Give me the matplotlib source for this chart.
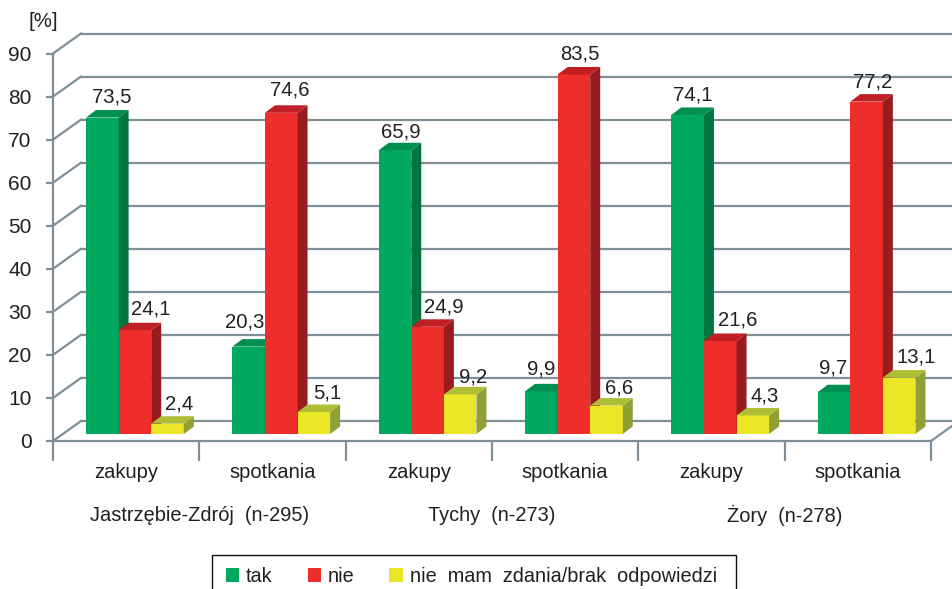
# Grouped pseudo-3D bar chart, bars and walls are built by hand on normal axes
import matplotlib
matplotlib.use('Agg')
import matplotlib.pyplot as plt
from matplotlib.patches import Patch, Polygon, Rectangle

plt.rcParams['font.family'] = ['Liberation Sans', 'DejaVu Sans']

# Data
cities = ['Jastrzębie-Zdrój  (n-295)', 'Tychy  (n-273)', 'Żory  (n-278)']
topics = ['zakupy', 'spotkania', 'zakupy', 'spotkania', 'zakupy', 'spotkania']
series_names = ['tak', 'nie', 'nie  mam  zdania/brak  odpowiedzi']
tak = [73.5, 20.3, 65.9, 9.9, 74.1, 9.7]
nie = [24.1, 74.6, 24.9, 83.5, 21.6, 77.2]
brak = [2.4, 5.1, 9.2, 6.6, 4.3, 13.1]
y_ticks = list(range(0, 100, 10))

# Label nudges in pixels, the labels do not sit centred on their bars
tak_nudge = [(9, 2), (-4, 6), (6, -1), (0, 3), (5, 1), (-1, 5)]
nie_nudge = [(16, 2), (9, 4), (16, 1), (6, 1), (17, 2), (6, 1)]
brak_nudge = [(12, 1), (13, 0), (13, -2), (13, -1), (12, 0), (17, 2)]

# Colours: front, side, top
green = ('#00a860', '#00753f', '#008f50')
red = ('#ee2e2a', '#981b20', '#bf1f25')
yellow = ('#ebe626', '#90a035', '#aebf35')
axis_color = '#7f8f98'
text_color = '#231f20'

fig = plt.figure(figsize=(9.53, 5.89), dpi=100)
ax = fig.add_axes([53 / 953, (589 - 441) / 589, 878 / 953, 387.5 / 589])
ax.set_xlim(0, 6)
ax.set_ylim(0, 90)

# pixel sizes in data units
px = 6 / 878
py = 90 / 387.5
wall_dx = 28 * px
wall_dy = 20 * py
depth_dx = 10 * px
depth_dy = 7.5 * py
floor = 7 * py
bar_w = 32.6 * px
bar_start = 33 * px

# Back wall lines and the diagonals going to the front axis
for tick in y_ticks:
    ax.plot([wall_dx, 6 + wall_dx], [tick + wall_dy] * 2, color=axis_color, lw=1.6,
            clip_on=False, zorder=1, solid_capstyle='butt')
    ax.plot([0, wall_dx], [tick, tick + wall_dy], color=axis_color, lw=1.6,
            clip_on=False, zorder=1)
ax.plot([6, 6 + wall_dx], [0, wall_dy], color=axis_color, lw=1.6, clip_on=False, zorder=1)


def draw_bar(x, value, colors, z):
    top = value + floor
    ax.bar(x, value, width=bar_w, bottom=floor, align='edge', color=colors[0],
           linewidth=0, zorder=z, clip_on=False)
    ax.add_patch(Polygon([(x + bar_w, floor), (x + bar_w + depth_dx, floor + depth_dy),
                          (x + bar_w + depth_dx, top + depth_dy), (x + bar_w, top)],
                         facecolor=colors[1], linewidth=0, zorder=z, clip_on=False))
    ax.add_patch(Polygon([(x, top), (x + depth_dx, top + depth_dy),
                          (x + bar_w + depth_dx, top + depth_dy), (x + bar_w, top)],
                         facecolor=colors[2], linewidth=0, zorder=z, clip_on=False))


all_series = [(tak, green, tak_nudge), (nie, red, nie_nudge), (brak, yellow, brak_nudge)]
for g in range(len(topics)):
    for s, (values, colors, nudge) in enumerate(all_series):
        x = g + bar_start + s * bar_w
        draw_bar(x, values[g], colors, 3 + s)
        ax.annotate(str(values[g]).replace('.', ','),
                    xy=(x + bar_w / 2, values[g] + floor + depth_dy),
                    xytext=(nudge[g][0], 6 + nudge[g][1]), textcoords='offset pixels',
                    ha='center', va='baseline', fontsize=14.6, color=text_color, zorder=10)

# Axes, ticks and tick labels
for name in ['top', 'right']:
    ax.spines[name].set_visible(False)
for name in ['left', 'bottom']:
    ax.spines[name].set_color(axis_color)
    ax.spines[name].set_linewidth(1.6)
ax.set_yticks(y_ticks)
ax.tick_params(axis='y', length=5, width=1.6, color=axis_color, pad=10.5,
               labelsize=15, labelcolor=text_color)
ax.set_xticks(range(7))
ax.set_xticklabels([])
ax.tick_params(axis='x', which='major', length=14.5, width=1.6, color=axis_color)
ax.set_xticks([g + 0.5 for g in range(6)], labels=topics, minor=True)
ax.tick_params(axis='x', which='minor', length=0, pad=15.5, labelsize=14.5,
               labelcolor=text_color)

for c, city in enumerate(cities):
    ax.text(2 * c + 1, -74.3 * py, city, ha='center', va='center', fontsize=14.45,
            color=text_color)
ax.text(-10 * px, 97.4, '[%]', ha='center', va='center', fontsize=14.6,
        color=text_color)

# Legend box runs off the bottom of the picture, so it is drawn apart from the legend
fig.add_artist(Rectangle((212 / 953, -10 / 589), 524 / 953, (589 - 555 + 10) / 589,
                         transform=fig.transFigure, fill=False, edgecolor='#111111',
                         linewidth=1))
handles = [Patch(facecolor=colors[0], linewidth=0) for _, colors, _ in all_series]
leg = ax.legend(handles, series_names, ncol=3, loc='upper left',
                bbox_to_anchor=(212 / 953, (589 - 553) / 589), bbox_transform=fig.transFigure,
                prop={'size': 14.3}, frameon=False, handlelength=0.67, handleheight=0.67,
                handletextpad=0.35, columnspacing=1.75, borderaxespad=0, borderpad=0.7)
for t in leg.get_texts():
    t.set_color(text_color)

plt.savefig('out.png', dpi=100)
plt.close()
